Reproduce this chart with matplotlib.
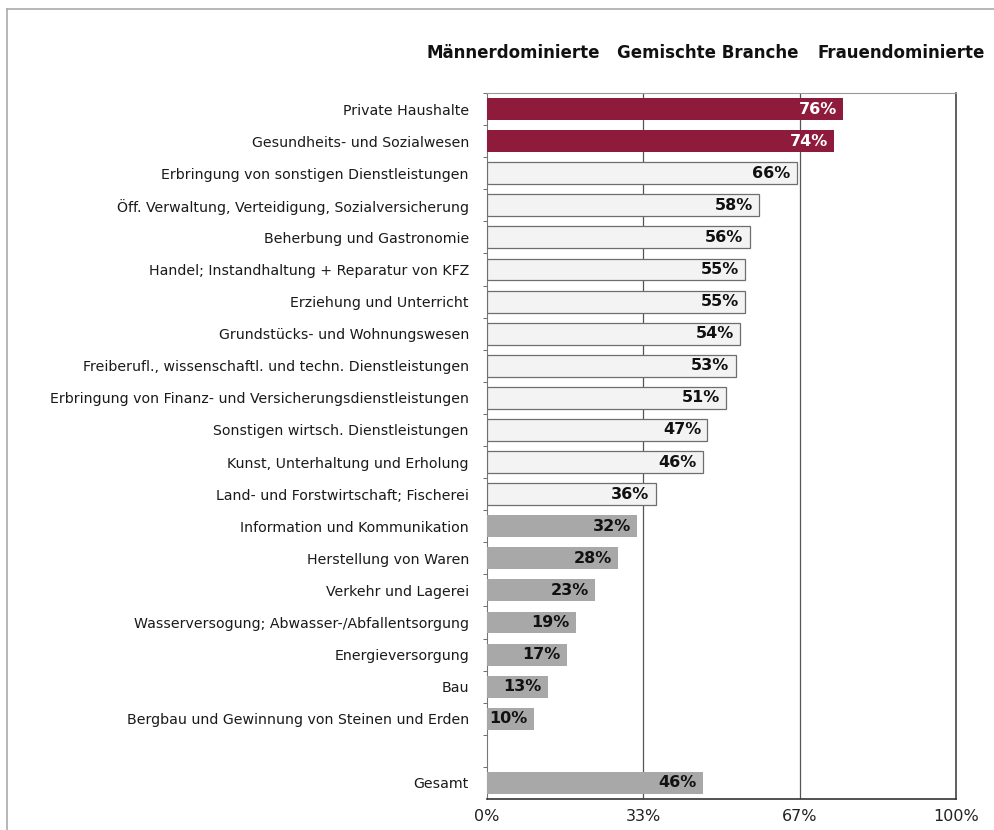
import matplotlib
matplotlib.use("Agg")
import matplotlib.pyplot as plt
from matplotlib.lines import Line2D
from matplotlib.ticker import FixedLocator

categories = [
    "Private Haushalte",
    "Gesundheits- und Sozialwesen",
    "Erbringung von sonstigen Dienstleistungen",
    "Öff. Verwaltung, Verteidigung, Sozialversicherung",
    "Beherbung und Gastronomie",
    "Handel; Instandhaltung + Reparatur von KFZ",
    "Erziehung und Unterricht",
    "Grundstücks- und Wohnungswesen",
    "Freiberufl., wissenschaftl. und techn. Dienstleistungen",
    "Erbringung von Finanz- und Versicherungsdienstleistungen",
    "Sonstigen wirtsch. Dienstleistungen",
    "Kunst, Unterhaltung und Erholung",
    "Land- und Forstwirtschaft; Fischerei",
    "Information und Kommunikation",
    "Herstellung von Waren",
    "Verkehr und Lagerei",
    "Wasserversogung; Abwasser-/Abfallentsorgung",
    "Energieversorgung",
    "Bau",
    "Bergbau und Gewinnung von Steinen und Erden",
    "Gesamt",
]
values = [76, 74, 66, 58, 56, 55, 55, 54, 53, 51, 47, 46, 36, 32, 28, 23, 19, 17, 13, 10, 46]
groups = ["F", "F", "G", "G", "G", "G", "G", "G", "G", "G", "G", "G", "G",
          "M", "M", "M", "M", "M", "M", "M", "T"]
header_labels = ["Männerdominierte", "Gemischte Branche", "Frauendominierte"]
tick_vals = [0, 1/3, 2/3, 1]
tick_labels = ["0%", "33%", "67%", "100%"]

style = {
    "F": dict(color="#8E1B3B", edgecolor="none", lw=0, txt="white"),
    "G": dict(color="#F3F3F3", edgecolor="#6E6E6E", lw=0.9, txt="#111111"),
    "M": dict(color="#A8A8A8", edgecolor="none", lw=0, txt="#111111"),
    "T": dict(color="#A8A8A8", edgecolor="none", lw=0, txt="#111111"),
}

plt.rcParams["font.family"] = ["DejaVu Sans"]

W, H = 995, 830
fig = plt.figure(figsize=(W / 100, H / 100), dpi=100)
ax = fig.add_axes([487 / W, 1 - 799 / H, (956 - 487) / W, (799 - 93) / H])

# positions: 20 categories, a gap, then Gesamt
pos = list(range(20)) + [21]
for p, v, g in zip(pos, values, groups):
    s = style[g]
    ax.barh(p, v / 100, height=0.68, color=s["color"], edgecolor=s["edgecolor"],
            linewidth=s["lw"], zorder=3)
    ax.annotate(f"{v}%", xy=(v / 100, p), xytext=(-4.5, 0), textcoords="offset points",
                ha="right", va="center", fontsize=11.5, fontweight="bold",
                color=s["txt"], zorder=4)

ax.set_ylim(21.5, -0.5)
ax.set_xlim(0, 1)
ax.set_yticks(pos)
ax.set_yticklabels(categories, fontsize=10.2, color="#1a1a1a")
ax.tick_params(axis="y", length=0, pad=13)
ax.yaxis.set_minor_locator(FixedLocator([i + 0.5 for i in range(-1, 21)]))
ax.tick_params(axis="y", which="minor", length=3, color="#555555")
ax.set_xticks(tick_vals)
ax.set_xticklabels(tick_labels, fontsize=11.5, color="#222222")
ax.tick_params(axis="x", length=0, pad=7)

for x in [1/3, 2/3]:
    ax.axvline(x, color="#555555", lw=0.9, zorder=1)

ax.spines["top"].set_color("#999999")
ax.spines["top"].set_linewidth(0.8)
ax.spines["right"].set_color("#444444")
ax.spines["right"].set_linewidth(1.2)
ax.spines["bottom"].set_color("#333333")
ax.spines["bottom"].set_linewidth(1.2)
ax.spines["left"].set_color("#777777")
ax.spines["left"].set_linewidth(0.8)

# headers
for cx, t in zip([513, 708, 901], header_labels):
    fig.text(cx / W, 1 - 53 / H, t, ha="center", va="center", fontsize=12,
             fontweight="bold", color="#111111")

# outer frame lines
fig.add_artist(Line2D([7 / W, 7 / W], [0, 1 - 9 / H], transform=fig.transFigure,
                      color="#AAAAAA", lw=1.2))
fig.add_artist(Line2D([7 / W, 1], [1 - 9 / H, 1 - 9 / H], transform=fig.transFigure,
                      color="#AAAAAA", lw=1.2))

fig.savefig("out.png", dpi=100)
